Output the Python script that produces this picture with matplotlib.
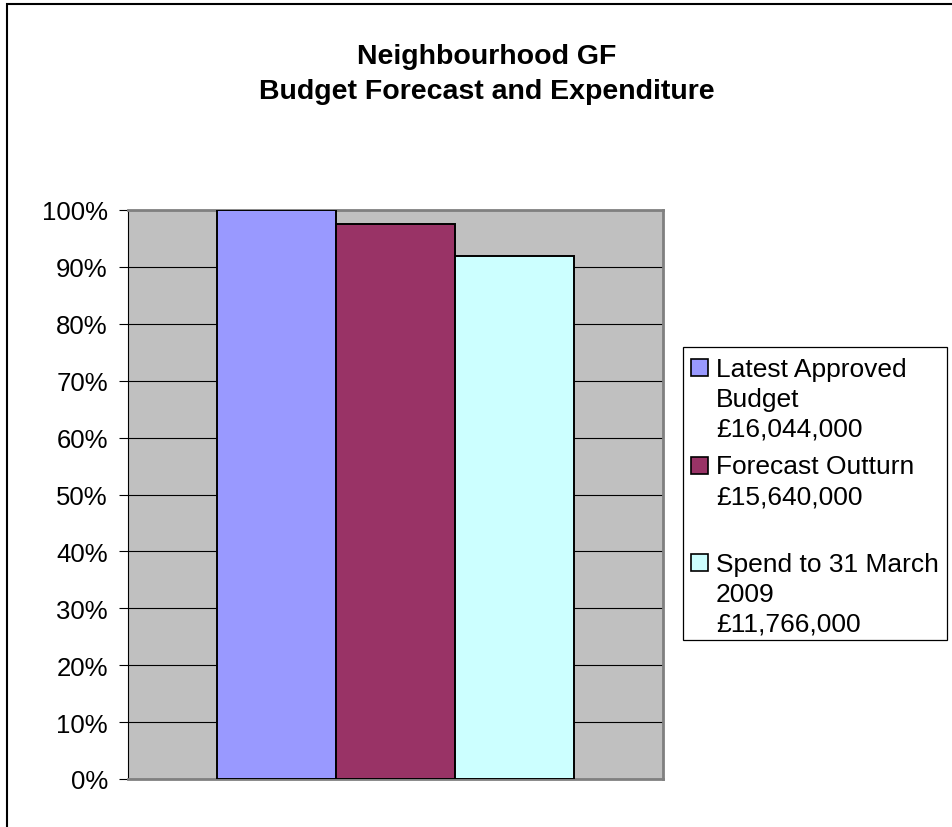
import numpy as np
import matplotlib
matplotlib.use("Agg")
import matplotlib.pyplot as plt
from matplotlib.patches import Rectangle
from matplotlib.ticker import PercentFormatter

# -------------------------------
# DATA
# -------------------------------

title_lines = ["Neighbourhood GF", "Budget Forecast and Expenditure"]
series_labels = [
    "Latest Approved\nBudget\n£16,044,000",
    "Forecast Outturn\n£15,640,000\n",
    "Spend to 31 March\n2009\n£11,766,000",
]
series_values = [1.000, 0.975, 0.920]   # share of approved budget
series_colors = ["#9999FF", "#993366", "#CCFFFF"]
y_ticks = np.arange(0, 1.01, 0.1)

# -------------------------------
# FIGURE
# -------------------------------

W, H = 953, 828
plt.rcParams["font.family"] = ["Liberation Sans", "DejaVu Sans"]

fig = plt.figure(figsize=(W / 100, H / 100), dpi=100)
fig.patch.set_facecolor("white")


def fx(px):
    return px / W


def fy(py):
    return 1 - py / H


# outer chart border (left + top only visible)
fig.add_artist(Rectangle((fx(7), fy(900)), 2.0, fy(5) - fy(900),
                         transform=fig.transFigure, fill=False,
                         edgecolor="black", lw=1.5, clip_on=False))

# plot area
left, right, top, bottom = 128, 663, 211, 780
ax = fig.add_axes([fx(left), fy(bottom), fx(right - left), fy(top) - fy(bottom)])
ax.set_facecolor("#C0C0C0")

x = np.arange(len(series_values)) - 1.0
bars = ax.bar(x, series_values, width=1.0, color=series_colors,
              edgecolor="black", linewidth=1.4, zorder=3)

ax.set_xlim(-2.25, 2.25)
ax.set_ylim(0, 1)
ax.set_yticks(y_ticks)
ax.yaxis.set_major_formatter(PercentFormatter(xmax=1, decimals=0))
ax.set_xticks([])
ax.yaxis.grid(True, color="black", lw=0.8, zorder=1)
ax.set_axisbelow(True)
ax.tick_params(axis="y", direction="out", length=6.5, width=0.8,
               pad=8, labelsize=18.5, colors="black")

for side in ["top", "right", "bottom"]:
    ax.spines[side].set_color("#808080")
    ax.spines[side].set_linewidth(2)
ax.spines["left"].set_color("black")
ax.spines["left"].set_linewidth(0.8)

# title
fig.text(fx(487), fy(64), title_lines[0], ha="center", va="baseline",
         fontsize=20.5, fontweight="bold")
fig.text(fx(487), fy(99), title_lines[1], ha="center", va="baseline",
         fontsize=20.5, fontweight="bold")

# legend (drawn by hand to match the spreadsheet layout)
fig.add_artist(Rectangle((fx(683), fy(641)), fx(947) - fx(683), fy(348) - fy(641),
                         transform=fig.transFigure, fill=True, facecolor="white",
                         edgecolor="black", lw=0.9))

item_step = 97.5
line_step = 30
for k, (lab, col) in enumerate(zip(series_labels, series_colors)):
    base = 377 + k * item_step
    fig.add_artist(Rectangle((fx(691), fy(base)), fx(17), fy(0) - fy(17),
                             transform=fig.transFigure, facecolor=col,
                             edgecolor="black", lw=1.2))
    for i, line in enumerate(lab.split("\n")):
        if line:
            fig.text(fx(716), fy(base + i * line_step), line, ha="left",
                     va="baseline", fontsize=19)

fig.savefig("out.png", dpi=100)
